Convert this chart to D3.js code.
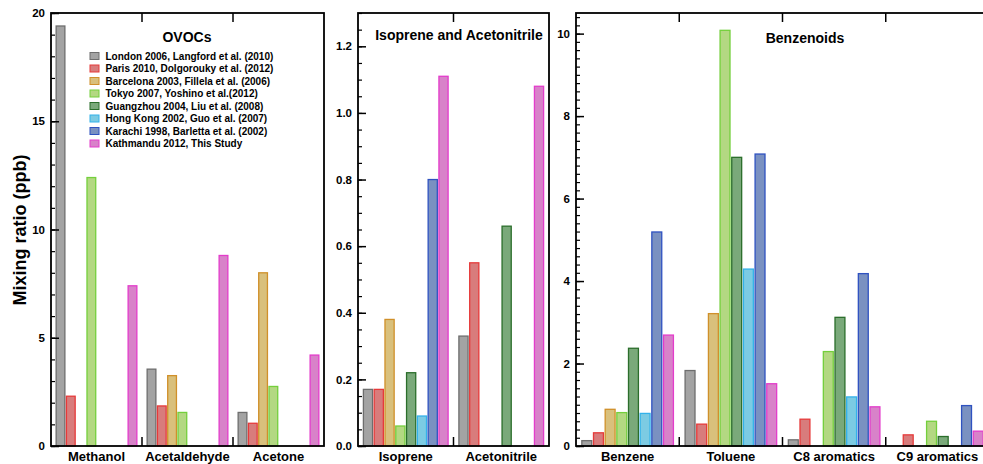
<!DOCTYPE html>
<html><head><meta charset="utf-8">
<script src="https://cdn.jsdelivr.net/npm/d3@7"></script>
<style>
body{margin:0;background:#fff;}
text{font-family:"Liberation Sans",Arial,Helvetica,sans-serif;font-weight:bold;fill:#000;}
</style></head>
<body><svg id="chart" width="983" height="464"></svg>
<script>
const seriesNames = [
  "London 2006, Langford et al. (2010)",
  "Paris 2010, Dolgorouky et al. (2012)",
  "Barcelona 2003, Fillela et al. (2006)",
  "Tokyo 2007, Yoshino et al.(2012)",
  "Guangzhou 2004, Liu et al. (2008)",
  "Hong Kong 2002, Guo et al. (2007)",
  "Karachi 1998, Barletta et al. (2002)",
  "Kathmandu 2012, This Study"
];
const fillColors   = ["#a3a3a3","#d87c7c","#d9c07c","#b3d882","#7aa97a","#7ccbe3","#7a91c1","#d882c9"];
const strokeColors = ["#6e6e6e","#e63a3a","#d0902a","#74cf3c","#2b6e2b","#33b2ea","#2f52c0","#e33ccb"];

const ovocCategories = ["Methanol","Acetaldehyde","Acetone"];
const ovocValues = [
  [19.4, 2.3, null, 12.4, null, null, null, 7.4],
  [3.55, 1.85, 3.25, 1.55, null, null, null, 8.8],
  [1.55, 1.05, 8.0, 2.75, null, null, null, 4.2]
];
const isoCategories = ["Isoprene","Acetonitrile"];
const isoValues = [
  [0.17, 0.17, 0.38, 0.06, 0.22, 0.09, 0.80, 1.11],
  [0.33, 0.55, null, null, 0.66, null, null, 1.08]
];
const benzCategories = ["Benzene","Toluene","C8 aromatics","C9 aromatics"];
const benzValues = [
  [0.13, 0.32, 0.89, 0.81, 2.37, 0.79, 5.19, 2.69],
  [1.83, 0.53, 3.21, 10.08, 7.0, 4.29, 7.08, 1.51],
  [0.15, 0.65, null, 2.29, 3.12, 1.19, 4.18, 0.95],
  [null, 0.27, null, 0.60, 0.23, null, 0.98, 0.36]
];
const ovocTicks = [0,5,10,15,20];
const isoTicks = [0,0.2,0.4,0.6,0.8,1.0,1.2];
const benzTicks = [0,2,4,6,8,10];

const svg = d3.select("#chart");
const plotTop = 13, plotBottom = 446;

function panel(cfg){
  const g = svg.append("g");
  const x = d3.scaleBand().domain(cfg.cats).range([cfg.x0, cfg.x1]);
  const xs = d3.scaleBand().domain(d3.range(seriesNames.length)).range([0, x.bandwidth()])
    .paddingInner(0.15).paddingOuter(0.5);
  const y = d3.scaleLinear().domain([0, cfg.ymax]).range([plotBottom, plotTop]);

  cfg.values.forEach((vals, ci) => {
    g.append("g").selectAll("rect").data(vals.map((v,i)=>({v,i})).filter(d=>d.v!=null))
      .join("rect")
      .attr("x", d => x(cfg.cats[ci]) + xs(d.i))
      .attr("y", d => y(d.v))
      .attr("width", xs.bandwidth())
      .attr("height", d => plotBottom - y(d.v))
      .attr("fill", d => fillColors[d.i])
      .attr("stroke", d => strokeColors[d.i])
      .attr("stroke-width", 1.3);
  });

  const minor = d3.axisLeft(y).tickValues(cfg.minor).tickFormat("").tickSizeInner(-4).tickSizeOuter(0);
  g.append("g").attr("transform", `translate(${cfg.x0},0)`).call(minor)
    .call(s => s.select(".domain").remove())
    .selectAll("line").attr("stroke","#000").attr("stroke-width",1.2);
  const major = d3.axisLeft(y).tickValues(cfg.ticks).tickFormat(cfg.fmt).tickSizeInner(-8).tickSizeOuter(0).tickPadding(6);
  const ma = g.append("g").attr("transform", `translate(${cfg.x0},0)`).call(major);
  ma.select(".domain").remove();
  ma.selectAll("line").attr("stroke","#000").attr("stroke-width",1.5);
  ma.selectAll("text").attr("font-size", 11.5).attr("fill","#000")
    .style("font-family","'Liberation Sans',Arial,sans-serif").style("font-weight","bold");

  const bounds = cfg.cats.slice(1).map(c => x(c));
  g.append("g").selectAll("line").data(bounds).join("line")
    .attr("x1", d=>d).attr("x2", d=>d).attr("y1", plotTop).attr("y2", plotTop+9)
    .attr("stroke","#000").attr("stroke-width",1.5);
  g.append("g").selectAll("line").data(bounds).join("line")
    .attr("x1", d=>d).attr("x2", d=>d).attr("y1", plotBottom).attr("y2", plotBottom-9)
    .attr("stroke","#000").attr("stroke-width",1.5);

  g.append("rect").attr("x", cfg.x0).attr("y", plotTop).attr("width", cfg.x1-cfg.x0).attr("height", plotBottom-plotTop)
    .attr("fill","none").attr("stroke","#000").attr("stroke-width",1.8);

  g.append("g").selectAll("text").data(cfg.cats).join("text")
    .attr("x", d => x(d) + x.bandwidth()/2).attr("y", 461)
    .attr("text-anchor","middle").attr("font-size",13).text(d=>d);

  g.append("text").attr("x", cfg.tx).attr("y", cfg.ty).attr("text-anchor","middle")
    .attr("font-size",14).text(cfg.title);
  return {g,x,y};
}

panel({cats:ovocCategories, values:ovocValues, x0:51, x1:324, ymax:20,
  ticks:ovocTicks, minor:d3.range(0,21,1), fmt:d3.format("d"),
  title:"OVOCs", tx:187, ty:42});
panel({cats:isoCategories, values:isoValues, x0:358, x1:549, ymax:1.3,
  ticks:isoTicks, minor:d3.range(0,1.301,0.05), fmt:d3.format(".1f"),
  title:"Isoprene and Acetonitrile", tx:459, ty:40});
panel({cats:benzCategories, values:benzValues, x0:576, x1:989, ymax:10.5,
  ticks:benzTicks, minor:d3.range(0,10.5,0.2), fmt:d3.format("d"),
  title:"Benzenoids", tx:805, ty:43});

const lg = svg.append("g");
seriesNames.forEach((name,i) => {
  const yy = 56 + i*12.5;
  lg.append("rect").attr("x", 90).attr("y", yy-3.5).attr("width", 9).attr("height", 7)
    .attr("fill", fillColors[i]).attr("stroke", strokeColors[i]).attr("stroke-width",1);
  lg.append("text").attr("x", 105.5).attr("y", yy+3.6).attr("font-size",10).text(name);
});

svg.append("text").attr("transform","translate(26,230) rotate(-90)")
  .attr("text-anchor","middle").attr("font-size",18).text("Mixing ratio (ppb)");
</script></body></html>
